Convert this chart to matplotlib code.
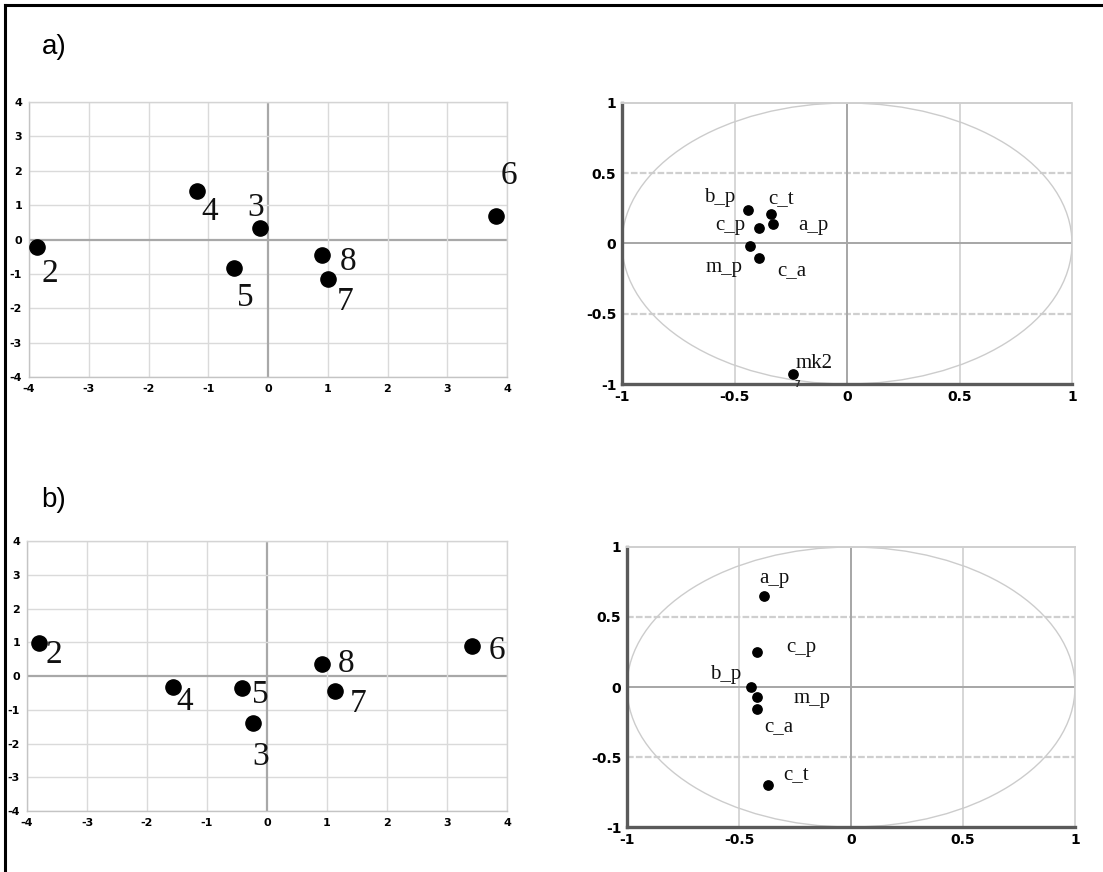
import matplotlib
matplotlib.use("Agg")
import matplotlib.pyplot as plt
import numpy as np
from matplotlib.patches import Ellipse
from matplotlib.lines import Line2D

plt.rcParams['axes.unicode_minus'] = False

# ---------------- data ----------------
# panel a) scores
a_score_labels = ["2", "4", "3", "5", "8", "7", "6"]
a_score_x = [-3.87, -1.18, -0.13, -0.57, 0.90, 1.01, 3.82]
a_score_y = [-0.22, 1.40, 0.34, -0.84, -0.44, -1.16, 0.68]
a_score_off = [(13, -27), (12, -20), (-5, 20), (11, -29), (26, -7), (17, -22), (13, 40)]

# panel a) loadings
a_load_labels = ["b_p", "c_t", "a_p", "c_p", "m_p", "c_a", "mk2"]
a_load_x = [-0.44, -0.34, -0.33, -0.39, -0.43, -0.39, -0.24]
a_load_y = [0.24, 0.21, 0.14, 0.11, -0.02, -0.10, -0.93]
a_load_off = [(-28, 12), (11, 15), (41, -2), (-29, 3), (-26, -21), (33, -13), (21, 11)]

# panel b) scores
b_score_labels = ["2", "4", "5", "3", "8", "7", "6"]
b_score_x = [-3.80, -1.57, -0.41, -0.24, 0.92, 1.14, 3.41]
b_score_y = [0.99, -0.32, -0.35, -1.40, 0.36, -0.43, 0.89]
b_score_off = [(15, -12), (12, -15), (18, -7), (8, -33), (24, 0), (23, -13), (25, -5)]

# panel b) loadings
b_load_labels = ["a_p", "c_p", "b_p", "m_p", "c_a", "c_t"]
b_load_x = [-0.39, -0.42, -0.445, -0.42, -0.42, -0.37]
b_load_y = [0.65, 0.25, 0.00, -0.07, -0.16, -0.70]
b_load_off = [(11, 18), (44, 5), (-26, 13), (55, -2), (22, -17), (28, 10)]

score_ticks = [-4, -3, -2, -1, 0, 1, 2, 3, 4]
load_ticks = [-1, -0.5, 0, 0.5, 1]
load_ticklabels = ["-1", "-0.5", "0", "0.5", "1"]

# ---------------- figure ----------------
fig = plt.figure(figsize=(11.03, 8.72), dpi=100)
fig.patch.set_facecolor("white")

# frame lines (top and left)
fig.add_artist(Line2D([5/1103, 1.0], [1 - 5/872, 1 - 5/872], color="black", lw=2.2,
                      transform=fig.transFigure))
fig.add_artist(Line2D([5/1103, 5/1103], [0, 1 - 5/872], color="black", lw=2.2,
                      transform=fig.transFigure))

fig.text(54/1103, 1 - 47/872, "a)", fontsize=20, family="Liberation Sans",
         ha="center", va="center")
fig.text(54/1103, 1 - 500/872, "b)", fontsize=20, family="Liberation Sans",
         ha="center", va="center")


def score_panel(rect, xs, ys, labels, offs):
    ax = fig.add_axes(rect)
    ax.set_xlim(-4, 4)
    ax.set_ylim(-4, 4)
    ax.set_xticks(score_ticks)
    ax.set_yticks(score_ticks)
    ax.set_xticklabels([str(t) for t in score_ticks])
    ax.set_yticklabels([str(t) for t in score_ticks])
    for t in score_ticks:
        c = "#a8a8a8" if t == 0 else "#dadada"
        lw = 1.6 if t == 0 else 1.0
        ax.axvline(t, color=c, lw=lw, zorder=0)
        ax.axhline(t, color=c, lw=lw, zorder=0)
    for s in ax.spines.values():
        s.set_color("#d4d4d4")
        s.set_linewidth(1.0)
    ax.spines["left"].set_color("#c4c4c4")
    ax.spines["bottom"].set_color("#c4c4c4")
    ax.tick_params(length=0, pad=5, labelsize=8)
    for lab in ax.get_xticklabels() + ax.get_yticklabels():
        lab.set_fontweight("bold")
        lab.set_family("DejaVu Sans")
    ax.scatter(xs, ys, s=120, color="black", zorder=3, clip_on=False)
    for x, y, l, o in zip(xs, ys, labels, offs):
        ax.annotate(l, (x, y), xytext=o, textcoords="offset pixels",
                    ha="center", va="center", fontsize=24,
                    family="Liberation Serif", color="#111111")
    return ax


def load_panel(rect, xs, ys, labels, offs):
    ax = fig.add_axes(rect)
    ax.set_xlim(-1, 1)
    ax.set_ylim(-1, 1)
    ax.set_xticks(load_ticks)
    ax.set_yticks(load_ticks)
    ax.set_xticklabels(load_ticklabels)
    ax.set_yticklabels(load_ticklabels)
    for t in [-0.5, 0.5]:
        ax.axvline(t, color="#cfcfcf", lw=1.2, zorder=0)
        ax.axhline(t, color="#cfcfcf", lw=1.6, ls=(0, (3, 1)), zorder=0)
    ax.axvline(0, color="#a6a6a6", lw=1.4, zorder=0)
    ax.axhline(0, color="#a6a6a6", lw=1.4, zorder=0)
    ax.spines["top"].set_color("#cfcfcf")
    ax.spines["top"].set_linestyle((0, (3, 1)))
    ax.spines["top"].set_linewidth(1.4)
    ax.spines["right"].set_color("#cfcfcf")
    ax.spines["right"].set_linewidth(1.2)
    ax.spines["left"].set_color("#5a5a5a")
    ax.spines["left"].set_linewidth(2.4)
    ax.spines["bottom"].set_color("#5a5a5a")
    ax.spines["bottom"].set_linewidth(2.4)
    ax.tick_params(length=0, pad=4, labelsize=10)
    for lab in ax.get_xticklabels() + ax.get_yticklabels():
        lab.set_fontweight("bold")
        lab.set_family("DejaVu Sans")
    ax.add_patch(Ellipse((0, 0), 2, 2, fill=False, edgecolor="#cccccc", lw=1.0, zorder=1))
    ax.scatter(xs, ys, s=45, color="black", zorder=3)
    for x, y, l, o in zip(xs, ys, labels, offs):
        ax.annotate(l, (x, y), xytext=o, textcoords="offset pixels",
                    ha="center", va="center", fontsize=15,
                    family="Liberation Serif", color="#111111")
    return ax


score_panel([29/1103, 1 - 377/872, 478/1103, 275/872],
            a_score_x, a_score_y, a_score_labels, a_score_off)
axa = load_panel([622/1103, 1 - 384/872, 450/1103, 281/872],
                 a_load_x, a_load_y, a_load_labels, a_load_off)
# small artefact digit under mk2
axa.annotate("7", (a_load_x[-1], a_load_y[-1]), xytext=(4, -10), textcoords="offset pixels",
             ha="center", va="center", fontsize=6, fontweight="bold", color="#333333")

score_panel([27/1103, 1 - 811/872, 480/1103, 270/872],
            b_score_x, b_score_y, b_score_labels, b_score_off)
load_panel([627/1103, 1 - 827/872, 448/1103, 280/872],
           b_load_x, b_load_y, b_load_labels, b_load_off)

fig.savefig("out.png", dpi=100, facecolor="white")
